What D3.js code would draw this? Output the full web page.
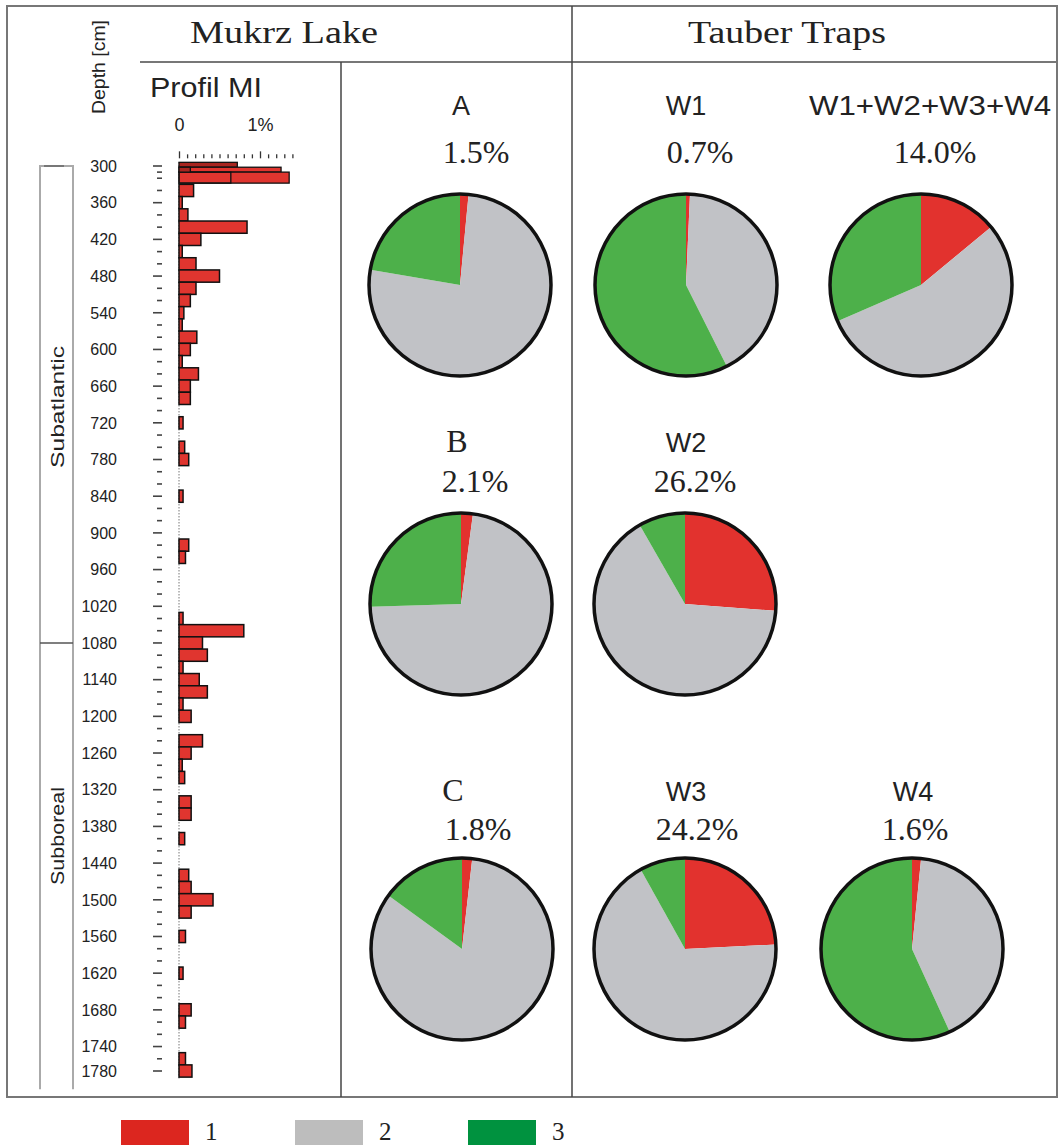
<!DOCTYPE html>
<html>
<head>
<meta charset="utf-8">
<script src="https://cdn.jsdelivr.net/npm/d3@7"></script>
<style>
  body { margin: 0; background: #fff; }
  text { font-family: "Liberation Sans", Arial, sans-serif; fill: #222; }
  .serif { font-family: "Liberation Serif", "Times New Roman", serif; }
</style>
</head>
<body>
<script>
// ---- data ----
// Profil MI: regular samples (centre depth in cm) and MI values in %
const sampleDepth = [340, 360, 380, 400, 420, 440, 460, 480, 500, 520, 540, 560, 580, 600, 620, 640, 660, 680,
    700, 720, 740, 760, 780, 800, 820, 840, 860, 880, 900, 920, 940, 960, 980, 1000, 1020, 1040, 1060, 1080,
    1100, 1120, 1140, 1160, 1180, 1200, 1220, 1240, 1260, 1280, 1300, 1320, 1340, 1360, 1380, 1400, 1420,
    1440, 1460, 1480, 1500, 1520, 1540, 1560, 1580, 1600, 1620, 1640, 1660, 1680, 1700, 1720, 1740, 1760, 1780];
const sampleMI = [0.18, 0.04, 0.11, 0.84, 0.27, 0.04, 0.21, 0.50, 0.21, 0.14, 0.06, 0.04, 0.22, 0.14, 0.04, 0.24, 0.14, 0.14,
    0, 0.05, 0, 0.07, 0.12, 0, 0, 0.05, 0, 0, 0, 0.12, 0.08, 0, 0, 0, 0, 0.05, 0.80, 0.29,
    0.35, 0.05, 0.25, 0.35, 0.05, 0.15, 0, 0.29, 0.15, 0.04, 0.07, 0, 0.15, 0.15, 0, 0.07, 0,
    0, 0.12, 0.15, 0.42, 0.15, 0, 0.08, 0, 0, 0.05, 0, 0, 0.15, 0.08, 0, 0, 0.08, 0.16];
// densely sampled top of the core (from/to depth in cm)
const topFrom = [294, 302, 310, 310, 302];
const topTo = [302, 310, 328, 328, 310];
const topMI = [0.72, 1.26, 1.36, 0.64, 0.14];

const depthLabels = [300, 360, 420, 480, 540, 600, 660, 720, 780, 840, 900, 960, 1020, 1080, 1140, 1200,
    1260, 1320, 1380, 1440, 1500, 1560, 1620, 1680, 1740, 1780];
const periods = ['Subatlantic', 'Subboreal'];

// pies: shares of type 1 / 2 / 3 in %
const pieNames = ['A', 'W1', 'W1+W2+W3+W4', 'B', 'W2', 'C', 'W3', 'W4'];
const pieRed = [1.5, 0.7, 14.0, 2.1, 26.2, 1.8, 24.2, 1.6];
const pieGrey = [76.2, 41.9, 54.5, 72.4, 65.5, 83.2, 67.7, 41.6];
const pieGreen = [22.3, 57.4, 31.5, 25.5, 8.3, 15.0, 8.1, 56.8];

const legendKeys = ['1', '2', '3'];

// ---- layout / style ----
const W = 1061, H = 1145;
const red = '#e0352f', darkRed = '#a82520';
const pieColors = ['#e2322e', '#c1c2c6', '#4db04a'];
const legendColors = ['#dc261f', '#bdbdbd', '#00923f'];

// pie slots: centre, title x, percent x
const slots = [
    { cx: 460, cy: 285, tx: 461, px: 476, row: 0 },
    { cx: 686, cy: 285, tx: 686, px: 700, row: 0 },
    { cx: 921, cy: 285, tx: 930, px: 935, row: 0 },
    { cx: 461, cy: 604, tx: 457, px: 475, row: 1 },
    { cx: 685, cy: 604, tx: 686, px: 695, row: 1 },
    { cx: 462, cy: 949, tx: 453, px: 478, row: 2 },
    { cx: 685, cy: 949, tx: 686, px: 697, row: 2 },
    { cx: 912, cy: 949, tx: 913, px: 915, row: 2 }
];
const titleBase = [115, 452, 801];
const pctBase = [163, 492, 840];
const serifTitles = new Set(['B', 'C']);

const svg = d3.select('body').append('svg')
    .attr('width', W)
    .attr('height', H);

// frame
svg.append('rect')
    .attr('x', 7).attr('y', 6)
    .attr('width', 1050).attr('height', 1091)
    .attr('fill', 'none').attr('stroke', '#777').attr('stroke-width', 2);
svg.append('line').attr('x1', 140).attr('x2', 1057).attr('y1', 62).attr('y2', 62)
    .attr('stroke', '#777').attr('stroke-width', 2);
svg.append('line').attr('x1', 572).attr('x2', 572).attr('y1', 6).attr('y2', 1097)
    .attr('stroke', '#444').attr('stroke-width', 1.5);
svg.append('line').attr('x1', 341).attr('x2', 341).attr('y1', 62).attr('y2', 1097)
    .attr('stroke', '#444').attr('stroke-width', 1.5);

// headers
svg.append('text').attr('class', 'serif')
    .attr('x', 190).attr('y', 43)
    .attr('font-size', 31).attr('textLength', 188).attr('lengthAdjust', 'spacingAndGlyphs')
    .text('Mukrz Lake');
svg.append('text').attr('class', 'serif')
    .attr('x', 688).attr('y', 43)
    .attr('font-size', 31).attr('textLength', 198).attr('lengthAdjust', 'spacingAndGlyphs')
    .text('Tauber Traps');

svg.append('text')
    .attr('transform', 'translate(105,67) rotate(-90)')
    .attr('text-anchor', 'middle')
    .attr('font-size', 19).attr('textLength', 94).attr('lengthAdjust', 'spacingAndGlyphs')
    .text('Depth [cm]');

svg.append('text')
    .attr('x', 150).attr('y', 97)
    .attr('font-size', 27).attr('textLength', 112).attr('lengthAdjust', 'spacingAndGlyphs')
    .text('Profil MI');

// ---- Profil MI ----
const y = d3.scaleLinear().domain([300, 1780]).range([166, 1071]);
const x = d3.scaleLinear().domain([0, 1]).range([179, 260]);

// zero line (dotted)
svg.append('line')
    .attr('x1', x(0)).attr('x2', x(0))
    .attr('y1', y(294)).attr('y2', y(1792))
    .attr('stroke', '#333').attr('stroke-width', 1).attr('stroke-dasharray', '1,2');

// MI axis on top
const xAxisG = svg.append('g')
    .attr('transform', `translate(0, ${y(294) - 4})`)
    .call(d3.axisTop(x)
        .tickValues(d3.range(15).map(i => i / 10))
        .tickSize(4)
        .tickPadding(23)
        .tickFormat(d => d === 0 ? '0' : Math.abs(d - 1) < 1e-9 ? '1%' : ''));
xAxisG.select('.domain').remove();
xAxisG.selectAll('.tick line').attr('stroke', '#333').attr('stroke-width', 1.3)
    .filter(d => d === 0 || Math.abs(d - 1) < 1e-9).attr('y2', -7);
xAxisG.selectAll('.tick text')
    .attr('font-family', '"Liberation Sans", Arial, sans-serif')
    .attr('font-size', 18).attr('fill', '#222');

// depth ticks + labels
const tickDepths = [300, 310, 320].concat(d3.range(340, 1781, 20));
svg.selectAll('line.dtick')
    .data(tickDepths)
    .join('line')
    .attr('class', 'dtick')
    .attr('x1', d => depthLabels.includes(d) ? 153 : 157)
    .attr('x2', 162)
    .attr('y1', d => y(d)).attr('y2', d => y(d))
    .attr('stroke', '#444').attr('stroke-width', 1.6);

svg.selectAll('text.dlabel')
    .data(depthLabels)
    .join('text')
    .attr('class', 'dlabel')
    .attr('x', 117)
    .attr('y', d => y(d))
    .attr('dy', '0.36em')
    .attr('text-anchor', 'end')
    .attr('font-size', 16)
    .text(d => d);

// bars
const bars = sampleDepth.map((d, i) => ({ from: d - 10, to: d + 10, v: sampleMI[i] }))
    .filter(d => d.v > 0);
svg.selectAll('rect.mi')
    .data(bars)
    .join('rect')
    .attr('class', 'mi')
    .attr('x', x(0))
    .attr('y', d => y(d.from))
    .attr('width', d => x(d.v) - x(0))
    .attr('height', d => y(d.to) - y(d.from))
    .attr('fill', red)
    .attr('stroke', '#111').attr('stroke-width', 1.5);

const topBars = topMI.map((v, i) => ({ from: topFrom[i], to: topTo[i], v }));
svg.selectAll('rect.mitop')
    .data(topBars)
    .join('rect')
    .attr('class', 'mitop')
    .attr('x', x(0))
    .attr('y', d => y(d.from))
    .attr('width', d => x(d.v) - x(0))
    .attr('height', d => y(d.to) - y(d.from))
    .attr('fill', (d, i) => i === 0 || i === 4 ? darkRed : red)
    .attr('fill-opacity', (d, i) => i === 3 ? 0 : 1)
    .attr('stroke', '#111').attr('stroke-width', 1.3);

// period bracket
const bx0 = 40, bx1 = 73;
svg.append('path')
    .attr('d', `M${bx0},${y(1810)} V${y(300)} H${bx1} V${y(1810)}`)
    .attr('fill', 'none').attr('stroke', '#aaa').attr('stroke-width', 2);
svg.append('line').attr('x1', 44).attr('x2', 64).attr('y1', y(300)).attr('y2', y(300))
    .attr('stroke', '#777').attr('stroke-width', 2);
svg.append('line').attr('x1', bx0).attr('x2', bx1).attr('y1', y(1080)).attr('y2', y(1080))
    .attr('stroke', '#555').attr('stroke-width', 1.5);
svg.selectAll('text.period')
    .data(periods)
    .join('text')
    .attr('class', 'period')
    .attr('transform', (d, i) => `translate(64, ${i === 0 ? 407 : 836}) rotate(-90)`)
    .attr('text-anchor', 'middle')
    .attr('font-size', 19)
    .attr('textLength', (d, i) => i === 0 ? 122 : 98)
    .attr('lengthAdjust', 'spacingAndGlyphs')
    .text(d => d);

// ---- pies ----
const pie = d3.pie().sort(null).value(d => d.v);
const arc = d3.arc().innerRadius(0).outerRadius(91);

pieNames.forEach((name, i) => {
    const s = slots[i];
    const g = svg.append('g').attr('transform', `translate(${s.cx},${s.cy})`);
    const parts = [
        { k: 0, v: pieRed[i] },
        { k: 1, v: pieGrey[i] },
        { k: 2, v: pieGreen[i] }
    ];
    g.selectAll('path')
        .data(pie(parts))
        .join('path')
        .attr('d', arc)
        .attr('fill', d => pieColors[d.data.k]);
    g.append('circle')
        .attr('r', 91)
        .attr('fill', 'none')
        .attr('stroke', '#111').attr('stroke-width', 3.5);

    const title = svg.append('text')
        .attr('class', serifTitles.has(name) ? 'serif' : null)
        .attr('x', s.tx).attr('y', titleBase[s.row])
        .attr('text-anchor', 'middle')
        .attr('font-size', serifTitles.has(name) ? 32 : 27)
        .text(name);
    if (name.length > 3) title.attr('textLength', 242).attr('lengthAdjust', 'spacingAndGlyphs');

    svg.append('text')
        .attr('class', 'serif')
        .attr('x', s.px).attr('y', pctBase[s.row])
        .attr('text-anchor', 'middle')
        .attr('font-size', 32)
        .text(pieRed[i].toFixed(1) + '%');
});

// ---- legend ----
const legendX = [121, 295, 468];
const lg = svg.selectAll('g.legend')
    .data(legendKeys)
    .join('g')
    .attr('class', 'legend')
    .attr('transform', (d, i) => `translate(${legendX[i]}, 1120)`);
lg.append('rect')
    .attr('width', 68).attr('height', 30)
    .attr('fill', (d, i) => legendColors[i]);
lg.append('text')
    .attr('class', 'serif')
    .attr('x', 84).attr('y', 20)
    .attr('font-size', 25)
    .text(d => d);
</script>
</body>
</html>
